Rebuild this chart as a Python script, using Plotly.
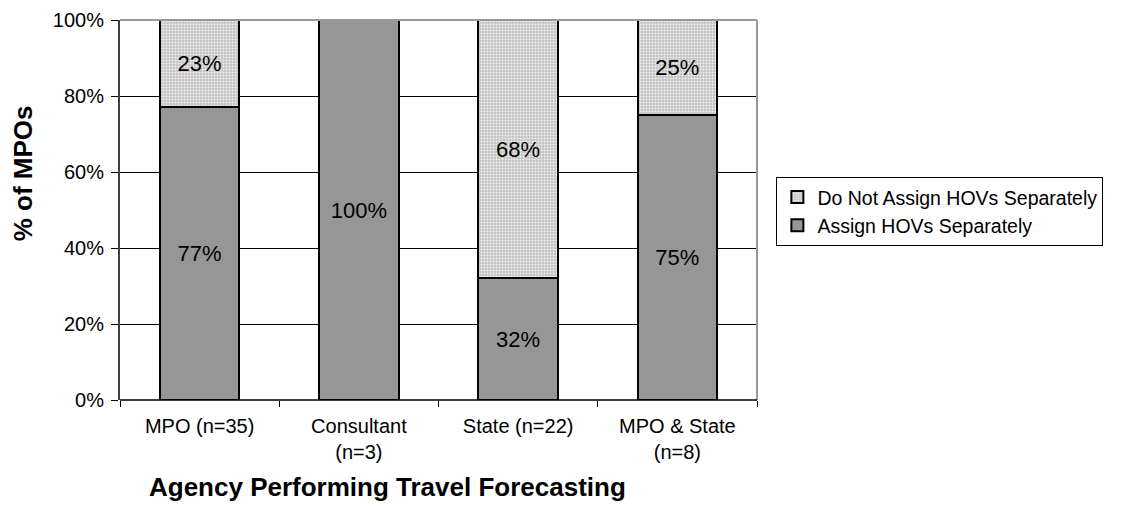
import plotly.graph_objects as go

categories = ["MPO (n=35)", "Consultant<br>(n=3)", "State (n=22)", "MPO & State<br>(n=8)"]
assign_sep = [77, 100, 32, 75]
not_assign_sep = [23, 0, 68, 25]
y_ticks = [0, 20, 40, 60, 80, 100]

FONT = "Liberation Sans, Arial, sans-serif"

def labels(vals):
    return [f"{v}%" if v > 0 else "" for v in vals]

fig = go.Figure()
fig.add_trace(go.Bar(
    x=categories, y=assign_sep, name="Assign HOVs Separately",
    marker=dict(color="#969696", line=dict(color="black", width=2)),
    text=labels(assign_sep), textposition="inside", insidetextanchor="middle",
    textfont=dict(color="black", size=22, family=FONT), width=0.5,
))
fig.add_trace(go.Bar(
    x=categories, y=not_assign_sep, name="Do Not Assign HOVs Separately",
    marker=dict(color="#c4c4c4", line=dict(color="black", width=2),
                pattern=dict(shape=".", bgcolor="#c4c4c4", fgcolor="#f0f0f0",
                             size=3, solidity=0.35, fillmode="replace")),
    text=labels(not_assign_sep), textposition="inside", insidetextanchor="middle",
    textfont=dict(color="black", size=22, family=FONT), width=0.5,
))

fig.update_layout(
    barmode="stack",
    width=1125, height=521,
    margin=dict(l=112, r=376, t=12, b=129, autoexpand=False),
    plot_bgcolor="white", paper_bgcolor="white",
    font=dict(family=FONT, size=20, color="black"),
    showlegend=True,
    legend=dict(xref="container", yref="container",
                x=0.683, y=0.676, xanchor="left", yanchor="top",
                traceorder="reversed", bordercolor="black", borderwidth=1,
                font=dict(size=19.5, family=FONT), bgcolor="white",
                itemwidth=30),
    uniformtext=dict(mode=None),
)
fig.update_xaxes(
    showline=False, ticks="outside", tickson="boundaries", ticklen=6,
    tickcolor="black", tickfont=dict(size=20, family=FONT),
    ticklabelstandoff=12, automargin=False,
)
fig.update_yaxes(
    range=[0, 100], tickvals=y_ticks, ticktext=[f"{v}%" for v in y_ticks],
    showgrid=True, gridcolor="black", gridwidth=1,
    showline=True, linecolor="#404040", linewidth=2,
    ticks="outside", ticklen=7, tickcolor="black",
    tickfont=dict(size=20, family=FONT), ticklabelstandoff=3,
    zeroline=False, automargin=False,
)
# axis titles
fig.add_annotation(text="<b>Agency Performing Travel Forecasting</b>",
                   xref="paper", yref="paper", x=0.42, y=-0.229,
                   xanchor="center", yanchor="middle", showarrow=False,
                   font=dict(size=26, family=FONT))
fig.add_annotation(text="<b>% of MPOs</b>", textangle=-90,
                   xref="paper", yref="paper", x=-0.152, y=0.597,
                   xanchor="center", yanchor="middle", showarrow=False,
                   font=dict(size=26, family=FONT))
# gray plot-area border at top and right
fig.add_shape(type="line", xref="paper", yref="paper", x0=0, x1=1, y0=1, y1=1,
              line=dict(color="#999999", width=2), layer="above")
fig.add_shape(type="line", xref="paper", yref="paper", x0=1, x1=1, y0=0, y1=1,
              line=dict(color="#999999", width=2), layer="above")
fig.add_shape(type="line", xref="paper", yref="paper", x0=0, x1=1, y0=0, y1=0,
              line=dict(color="black", width=1.5), layer="above")

fig.write_html("out.html")
